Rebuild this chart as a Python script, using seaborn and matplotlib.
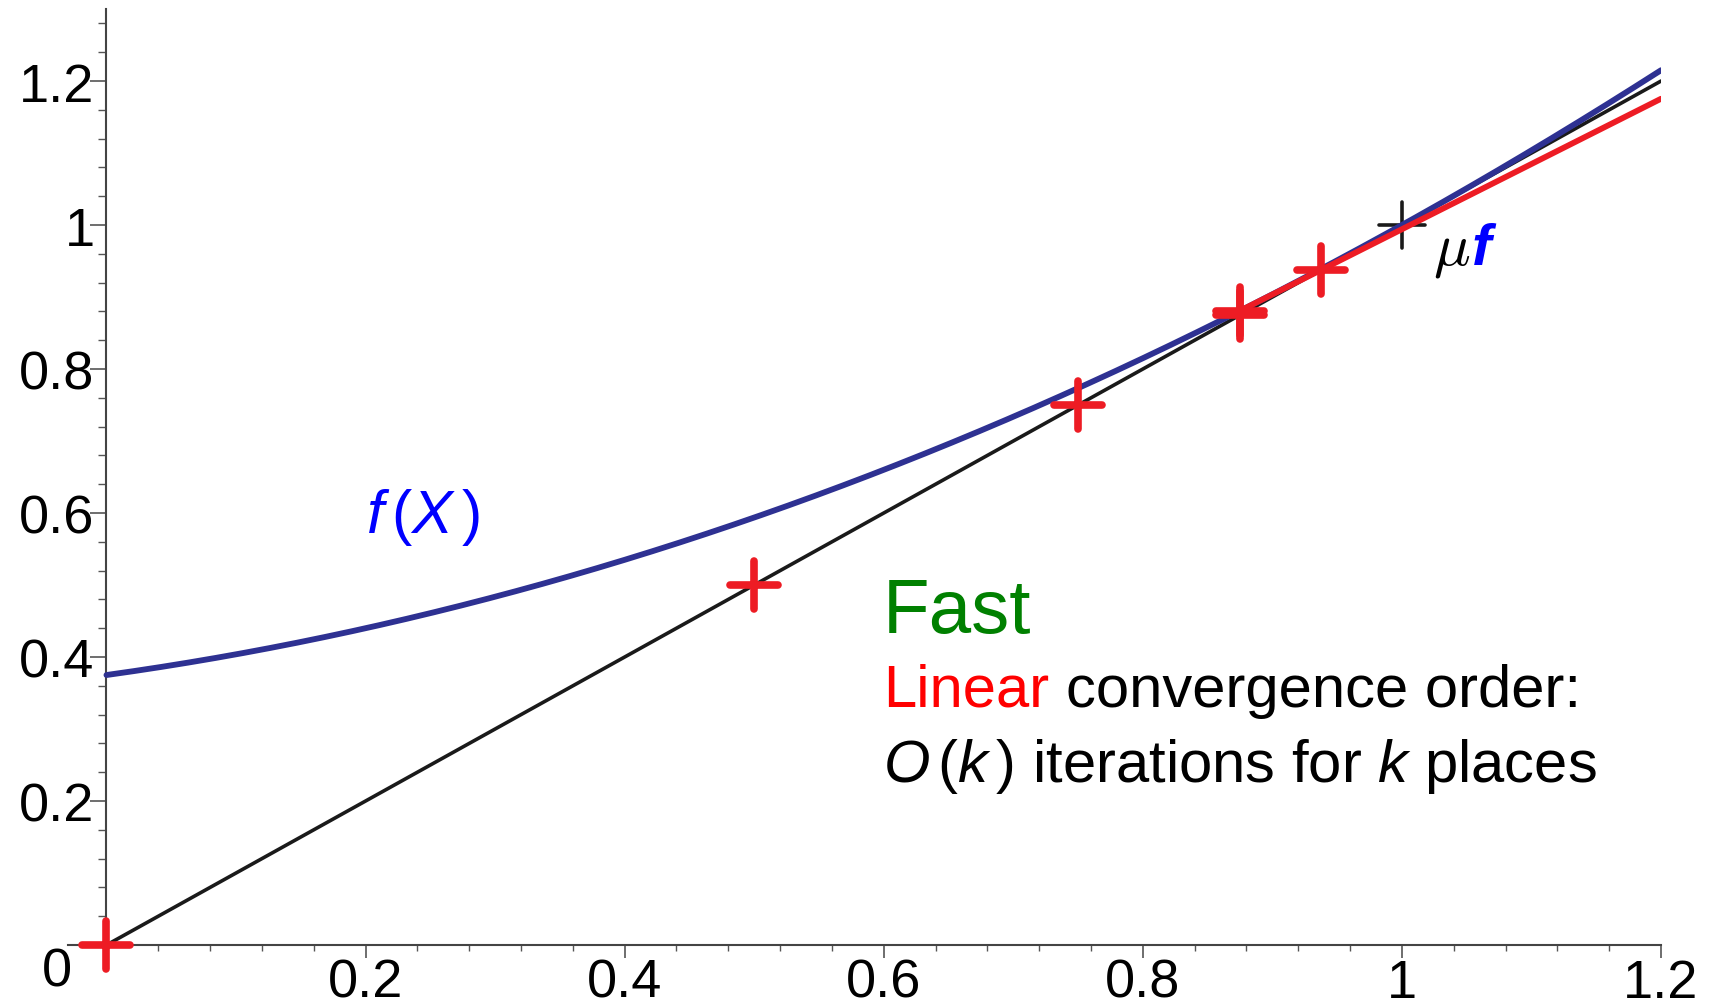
import numpy as np
import pandas as pd
import matplotlib
matplotlib.use("Agg")
import matplotlib.pyplot as plt
import seaborn as sns
from matplotlib.markers import MarkerStyle
from matplotlib.ticker import FixedLocator, FixedFormatter, MultipleLocator

# ---- data -------------------------------------------------------------
# f(X) = p0 + p1*X + p2*X^2  (probability generating function)
offspring_probs = [0.375, 0.25, 0.375]
# Newton iterates for f(X) = X, starting from 0
newton_iterates = [0.0, 0.5, 0.75, 0.875, 0.9375]
tangent_at = 0.875          # last tangent line drawn
fixed_point = 1.0           # least fixed point  mu f
x_range = [0.0, 1.2]
tick_values = [0.2, 0.4, 0.6, 0.8, 1.0, 1.2]
tick_labels = ["0.2", "0.4", "0.6", "0.8", "1", "1.2"]

# ---- styling -----------------------------------------------------------
sns.set_theme(style="white")
plt.rcParams["font.family"] = ["Liberation Sans", "DejaVu Sans"]
plt.rcParams["mathtext.fontset"] = "custom"
plt.rcParams["mathtext.rm"] = "Liberation Sans"
plt.rcParams["mathtext.it"] = "Liberation Sans:italic"
plt.rcParams["mathtext.bf"] = "Liberation Sans:bold"

RED = "#ed1c24"
NAVY = "#2e3192"
BLACK = "#1a1a1a"
TICK_FS = 39


def f(x):
    return np.polyval(offspring_probs[::-1], x)


def df(x):
    return offspring_probs[1] + 2 * offspring_probs[2] * np.asarray(x)


xs = np.linspace(x_range[0], x_range[1], 400)
curve = pd.DataFrame({"x": xs, "y": f(xs)})
diagonal = pd.DataFrame({"x": x_range, "y": x_range})
tx = np.array([tangent_at, x_range[1]])
tangent = pd.DataFrame({"x": tx, "y": f(tangent_at) + df(tangent_at) * (tx - tangent_at)})

fig = plt.figure(figsize=(17.2, 10.03), dpi=100)
ax = fig.add_axes([0.0393, 0.0568, 0.9264, 0.9332])

sns.lineplot(data=diagonal, x="x", y="y", ax=ax, color=BLACK, lw=2.6,
             estimator=None, sort=False, zorder=3)
sns.lineplot(data=curve, x="x", y="y", ax=ax, color=NAVY, lw=4.2,
             estimator=None, sort=False, zorder=4, solid_capstyle="round")
sns.lineplot(data=tangent, x="x", y="y", ax=ax, color=RED, lw=4.2,
             estimator=None, sort=False, zorder=5, solid_capstyle="round")

# fixed point marker (beneath the lines)
sns.scatterplot(x=[fixed_point], y=[f(fixed_point)], ax=ax,
                marker=MarkerStyle("+", capstyle="round"), s=33 ** 2,
                color=BLACK, linewidth=2.6, zorder=2, clip_on=False)
ax.collections[-1].set_capstyle("round")

# iterates on the diagonal, plus the tangent point on the curve
mx = newton_iterates + [tangent_at]
my = newton_iterates + [float(f(tangent_at))]
sns.scatterplot(x=mx, y=my, ax=ax, marker=MarkerStyle("+", capstyle="round"),
                s=34.5 ** 2, color=RED, linewidth=5.5, zorder=6, clip_on=False)
ax.collections[-1].set_capstyle("round")

# ---- axes ---------------------------------------------------------------
ax.set_xlim(-0.03, 1.2)
ax.set_ylim(0, 1.3)
ax.set_xlabel("")
ax.set_ylabel("")
for side in ("top", "right"):
    ax.spines[side].set_visible(False)
ax.spines["left"].set_position(("data", 0))
for side in ("left", "bottom"):
    ax.spines[side].set_color("#444444")
    ax.spines[side].set_linewidth(1.5)
    ax.spines[side].set_zorder(1)

ax.xaxis.set_major_locator(FixedLocator(tick_values))
ax.xaxis.set_major_formatter(FixedFormatter(tick_labels))
ax.yaxis.set_major_locator(FixedLocator(tick_values))
ax.yaxis.set_major_formatter(FixedFormatter(tick_labels))
ax.xaxis.set_minor_locator(MultipleLocator(0.04))
ax.yaxis.set_minor_locator(MultipleLocator(0.04))

ax.tick_params(axis="both", which="both", direction="out", color="#555555",
               labelsize=TICK_FS, labelcolor="black")
ax.tick_params(axis="x", which="major", length=9, width=1.2, pad=0, bottom=True)
ax.tick_params(axis="x", which="minor", length=4.5, width=1.0, bottom=True)
ax.tick_params(axis="y", which="major", length=11.5, width=1.2, pad=-3, left=True)
ax.tick_params(axis="y", which="minor", length=6, width=1.0, left=True)
ax.grid(False)

ax.annotate("0", xy=(0, 0), xytext=(-25, -1), textcoords="offset points",
            ha="right", va="top", fontsize=TICK_FS, color="black",
            annotation_clip=False)

# ---- annotations --------------------------------------------------------
ax.text(0.2, 0.5736, r"$f\,(X\,)$", color="#0000ff", fontsize=44,
        ha="left", va="baseline")
ax.text(1.024, 0.946, r"$\mu$", math_fontfamily="cm", fontsize=44,
        color="black", ha="left", va="baseline")
ax.text(1.0541, 0.946, "f", color="#0000ff", fontsize=42, fontstyle="italic",
        fontweight="bold", ha="left", va="baseline")

ax.text(0.5995, 0.4347, "Fast", color="#008000", fontsize=55,
        ha="left", va="baseline")
t_lin = ax.text(0.5995, 0.332, "Linear", color="#ff0000", fontsize=43,
                ha="left", va="baseline")
ax.annotate("convergence order:", xy=(1, 0), xycoords=t_lin,
            xytext=(12, 0), textcoords="offset points",
            color="black", fontsize=43, ha="left", va="bottom")
ax.text(0.5995, 0.2278, r"$O\,(k\,)$ iterations for $k$ places", color="black",
        fontsize=43, ha="left", va="baseline")

fig.savefig("out.png", dpi=100, facecolor="white")
